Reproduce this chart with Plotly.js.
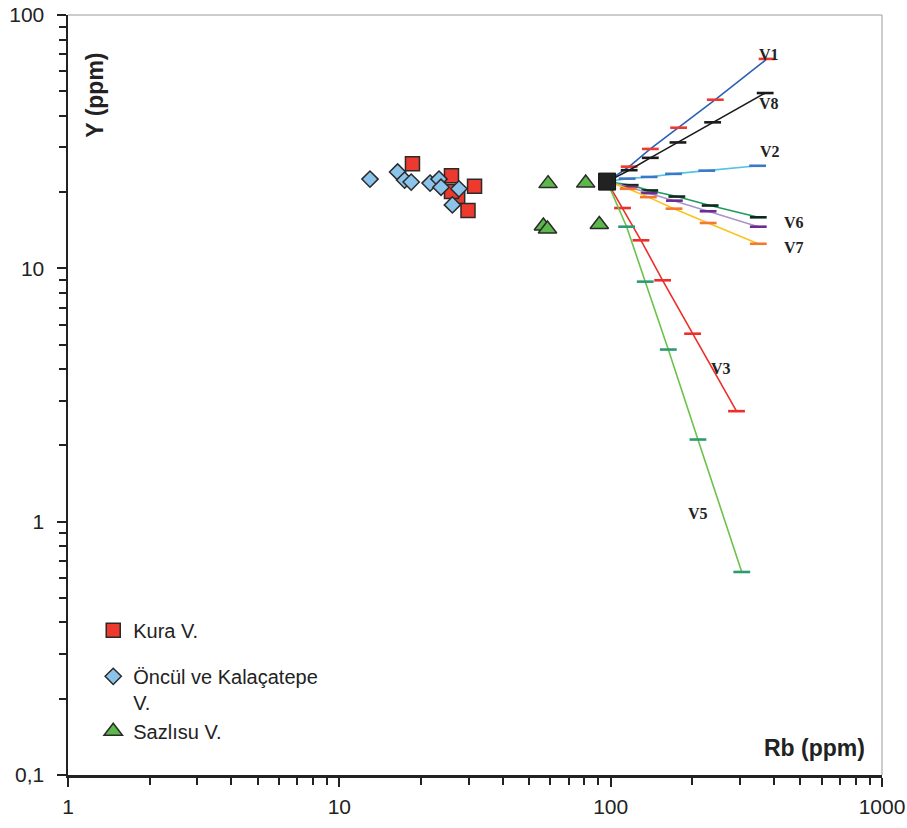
<!DOCTYPE html>
<html>
<head>
<meta charset="utf-8">
<script src="https://cdn.plot.ly/plotly-3.0.1.min.js"></script>
<style>html,body{margin:0;padding:0;background:#fff;}#chart{width:907px;height:828px;}</style>
</head>
<body>
<div id="chart"></div>
<script>
// ---- data (ppm) ----
const kuraRb = [18.6, 25.9, 31.5, 27.3, 29.8, 25.9];
const kuraY  = [25.9, 23.2, 21.1, 19.2, 16.9, 20.1];
const oncRb  = [12.97, 16.4, 17.4, 18.4, 21.6, 23.3, 23.7, 27.6, 26.1];
const oncY   = [22.5, 24.0, 22.3, 21.9, 21.7, 22.5, 20.9, 20.6, 17.8];
const sazRb  = [58.8, 80.9, 56.5, 58.5, 90.8];
const sazY   = [21.6, 21.7, 14.7, 14.3, 14.9];
const startRb = [97];
const startY  = [22];

const v1Rb = [97, 117, 140, 178, 243, 377];
const v1Y  = [22, 25.2, 29.6, 35.9, 46.3, 67.1];
const v8Rb = [97, 117, 140, 177, 237.5, 371];
const v8Y  = [22, 24.4, 27.3, 31.4, 37.7, 49.2];
const v2Rb = [97, 115, 138.6, 170.5, 226, 348];
const v2Y  = [22, 22.6, 22.95, 23.6, 24.3, 25.4];
const v6Rb = [97, 118, 139.3, 175.4, 232.6, 350];
const v6Y  = [22, 21.3, 20.3, 19.2, 17.7, 15.9];
const v4Rb = [97, 117, 138.6, 171.7, 228.7, 350];
const v4Y  = [22, 20.96, 19.8, 18.5, 16.8, 14.6];
const v7Rb = [97, 116, 137.7, 171.2, 228.7, 350];
const v7Y  = [22, 20.6, 19.1, 17.2, 15.1, 12.5];
const v3Rb = [97, 110.6, 129.3, 155.4, 200.4, 290.9];
const v3Y  = [22, 17.3, 12.9, 8.97, 5.52, 2.73];
const v5Rb = [97, 114.5, 134.1, 163.1, 209.7, 304.2];
const v5Y  = [22, 14.6, 8.86, 4.78, 2.11, 0.633];

const modelLabels = ['V1', 'V8', 'V2', 'V6', 'V7', 'V3', 'V5'];
const labelRb = [384, 384, 387, 474, 474, 255, 210];
const labelY  = [69.8, 44.7, 28.9, 15.2, 12.1, 4.02, 1.075];

const xTickVals = [1, 10, 100, 1000];
const xTickText = ['1', '10', '100', '1000'];
const yTickVals = [0.1, 1, 10, 100];
const yTickText = ['0,1', '1', '10', '100'];

// ---- helpers ----
function minorVals(lo, hi) {
  const out = [];
  for (let d = lo; d < hi; d *= 10) for (let k = 2; k <= 9; k++) out.push(k * d);
  return out;
}
function model(rb, y, lineColor, tickColor, w) {
  return {
    x: rb, y: y, type: 'scatter', mode: 'lines+markers', showlegend: false,
    line: {color: lineColor, width: w || 1.6},
    marker: {symbol: 'line-ew', size: 12, line: {color: tickColor, width: 2.6}},
    hoverinfo: 'skip'
  };
}

const traces = [
  model(v1Rb, v1Y, '#2b5fb4', '#ee3a2e'),
  model(v8Rb, v8Y, '#1a1a1a', '#1a1a1a'),
  model(v2Rb, v2Y, '#55c4e0', '#3a78c8'),
  model(v6Rb, v6Y, '#1e9a5e', '#0e2a1c'),
  model(v4Rb, v4Y, '#ab93cc', '#6b2d8f'),
  model(v7Rb, v7Y, '#fbc31c', '#f27a30'),
  model(v3Rb, v3Y, '#ec2f2a', '#ec2f2a'),
  model(v5Rb, v5Y, '#6cc24a', '#2f9a70'),
  {
    x: kuraRb, y: kuraY, type: 'scatter', mode: 'markers', name: 'Kura V.',
    legendgroup: 'a',
    marker: {symbol: 'square', size: 14, color: '#ee3a2e', line: {color: '#2a2a2a', width: 1.5}}
  },
  {
    x: oncRb, y: oncY, type: 'scatter', mode: 'markers', name: 'Öncül ve Kalaçatepe<br>V.',
    legendgroup: 'b',
    marker: {symbol: 'diamond', size: 12.5, color: '#8cc3ea', line: {color: '#2a2a2a', width: 1.5}}
  },
  {
    x: sazRb, y: sazY, type: 'scatter', mode: 'markers', name: 'Sazlısu V.',
    legendgroup: 'b',
    marker: {symbol: 'triangle-up', size: 16, color: '#5cb84a', line: {color: '#2a2a2a', width: 1.5}}
  },
  {
    x: startRb, y: startY, type: 'scatter', mode: 'markers', showlegend: false,
    marker: {symbol: 'square', size: 17, color: '#222222', line: {color: '#111', width: 1}}
  }
];

const annotations = modelLabels.map((t, i) => ({
  x: Math.log10(labelRb[i]), y: Math.log10(labelY[i]), xref: 'x', yref: 'y',
  text: '<b>' + t + '</b>', showarrow: false,
  font: {family: 'Liberation Serif, Times New Roman, serif', size: 16, color: '#222'}
}));
annotations.push({
  xref: 'paper', yref: 'paper', x: 0.033, y: 0.895, xanchor: 'center', yanchor: 'middle',
  text: '<b>Y (ppm)</b>', textangle: -90,
  showarrow: false, font: {family: 'Liberation Sans, Arial, sans-serif', size: 23, color: '#222'}
});
annotations.push({
  xref: 'paper', yref: 'paper', x: 0.982, y: 0.0355, xanchor: 'right', yanchor: 'middle',
  text: '<b>Rb (ppm)</b>',
  showarrow: false, font: {family: 'Liberation Sans, Arial, sans-serif', size: 23, color: '#222'}
});

const axisCommon = {
  showgrid: false, zeroline: false, showline: true, linecolor: '#222', linewidth: 2.5,
  ticks: 'outside', tickcolor: '#222', tickwidth: 2, ticklen: 9,
  tickfont: {family: 'Liberation Sans, Arial, sans-serif', size: 21, color: '#222'},
  tickmode: 'array'
};

const layout = {
  width: 907, height: 828,
  margin: {l: 68, r: 25, t: 15, b: 53},
  paper_bgcolor: '#fff', plot_bgcolor: '#fff',
  xaxis: Object.assign({}, axisCommon, {
    type: 'log', range: [0, 3], tickvals: xTickVals, ticktext: xTickText,
    ticklabelstandoff: 2,
    minor: {tickvals: minorVals(1, 1000), ticks: 'outside', ticklen: 7, tickwidth: 2, tickcolor: '#222'}
  }),
  yaxis: Object.assign({}, axisCommon, {
    type: 'log', range: [-1, 2], tickvals: yTickVals, ticktext: yTickText,
    ticklabelstandoff: 8,
    minor: {tickvals: minorVals(0.1, 100), ticks: 'outside', ticklen: 7, tickwidth: 2, tickcolor: '#222'}
  }),
  showlegend: true,
  legend: {
    x: 0.031, y: 0.216, xanchor: 'left', yanchor: 'top', bgcolor: 'rgba(0,0,0,0)',
    font: {family: 'Liberation Sans, Arial, sans-serif', size: 20, color: '#222'},
    traceorder: 'grouped', tracegroupgap: 17, valign: 'top'
  },
  shapes: [
    {type: 'line', xref: 'paper', yref: 'paper', x0: 0, x1: 1, y0: 1, y1: 1, line: {color: '#9a9a9a', width: 1}},
    {type: 'line', xref: 'paper', yref: 'paper', x0: 1, x1: 1, y0: 0, y1: 1, line: {color: '#9a9a9a', width: 1}}
  ],
  annotations: annotations
};

Plotly.newPlot('chart', traces, layout, {displayModeBar: false, staticPlot: true});
</script>
</body>
</html>
